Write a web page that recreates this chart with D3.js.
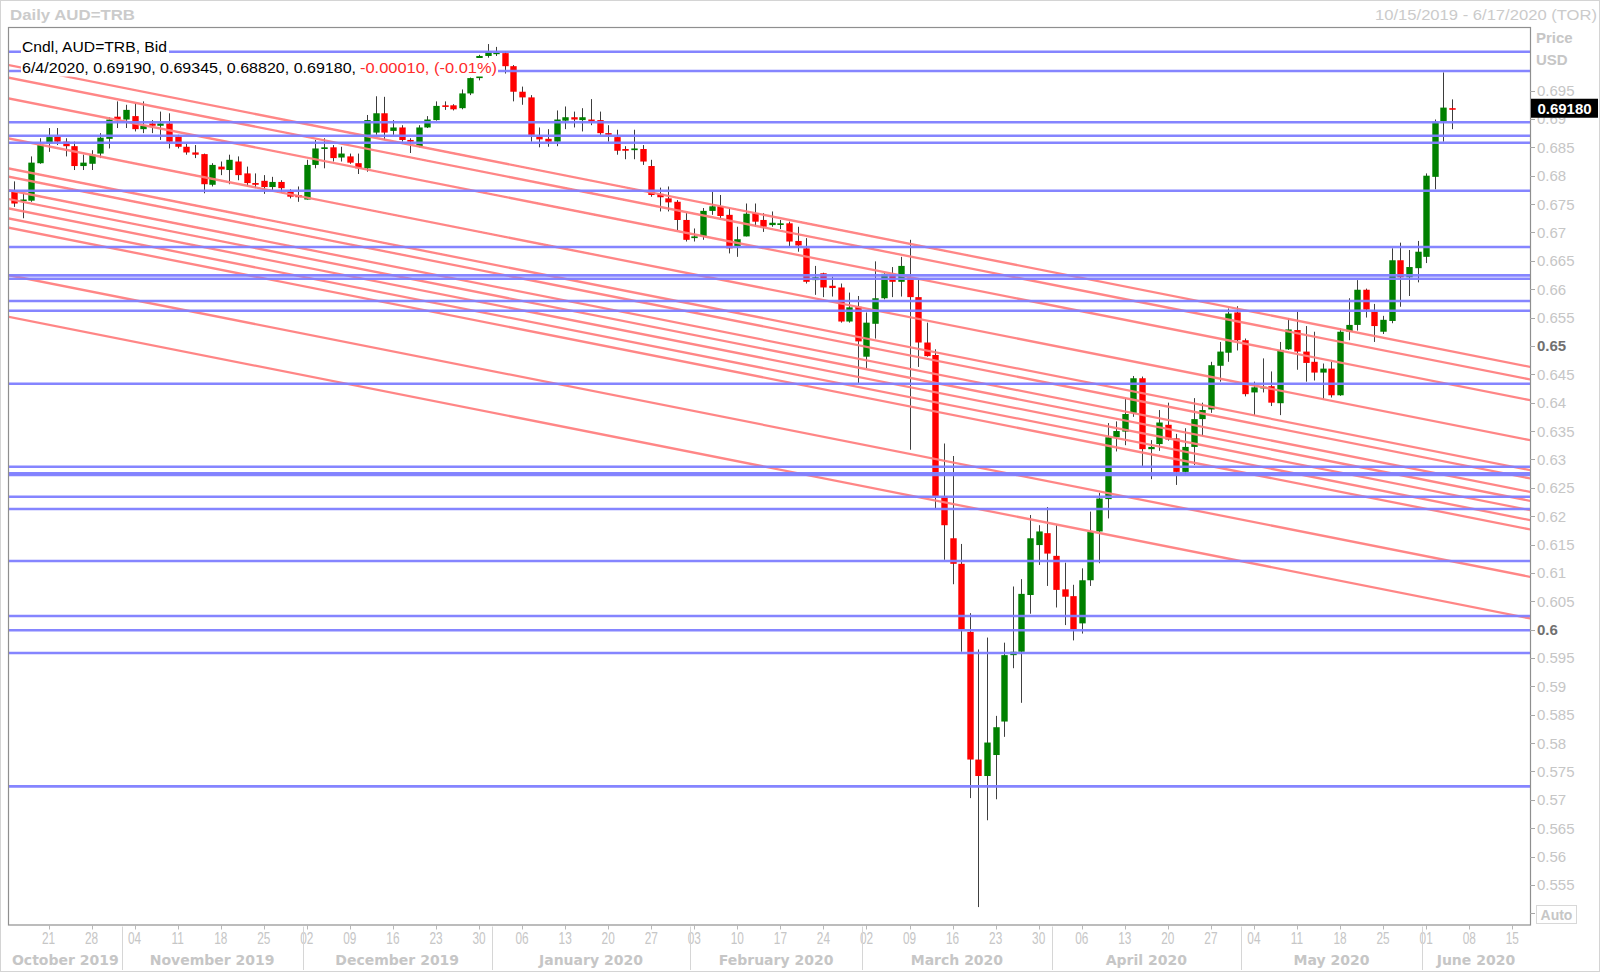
<!DOCTYPE html>
<html><head><meta charset="utf-8">
<script src="https://cdn.jsdelivr.net/npm/d3@7"></script>
<style>body{margin:0;background:#fff}svg{display:block}</style>
</head><body><svg id="c" width="1600" height="972"></svg>
<script>
// ---------------- DATA ----------------
const dates = [
"2019-10-15","2019-10-16","2019-10-17","2019-10-18","2019-10-21","2019-10-22","2019-10-23","2019-10-24","2019-10-25",
"2019-10-28","2019-10-29","2019-10-30","2019-10-31","2019-11-01","2019-11-04","2019-11-05","2019-11-06","2019-11-07","2019-11-08",
"2019-11-11","2019-11-12","2019-11-13","2019-11-14","2019-11-15","2019-11-18","2019-11-19","2019-11-20","2019-11-21","2019-11-22",
"2019-11-25","2019-11-26","2019-11-27","2019-11-28","2019-11-29","2019-12-02","2019-12-03","2019-12-04","2019-12-05","2019-12-06",
"2019-12-09","2019-12-10","2019-12-11","2019-12-12","2019-12-13","2019-12-16","2019-12-17","2019-12-18","2019-12-19","2019-12-20",
"2019-12-23","2019-12-24","2019-12-25","2019-12-26","2019-12-27","2019-12-30","2019-12-31","2020-01-01","2020-01-02","2020-01-03",
"2020-01-06","2020-01-07","2020-01-08","2020-01-09","2020-01-10","2020-01-13","2020-01-14","2020-01-15","2020-01-16","2020-01-17",
"2020-01-20","2020-01-21","2020-01-22","2020-01-23","2020-01-24","2020-01-27","2020-01-28","2020-01-29","2020-01-30","2020-01-31",
"2020-02-03","2020-02-04","2020-02-05","2020-02-06","2020-02-07","2020-02-10","2020-02-11","2020-02-12","2020-02-13","2020-02-14",
"2020-02-17","2020-02-18","2020-02-19","2020-02-20","2020-02-21","2020-02-24","2020-02-25","2020-02-26","2020-02-27","2020-02-28",
"2020-03-02","2020-03-03","2020-03-04","2020-03-05","2020-03-06","2020-03-09","2020-03-10","2020-03-11","2020-03-12","2020-03-13",
"2020-03-16","2020-03-17","2020-03-18","2020-03-19","2020-03-20","2020-03-23","2020-03-24","2020-03-25","2020-03-26","2020-03-27",
"2020-03-30","2020-03-31","2020-04-01","2020-04-02","2020-04-03","2020-04-06","2020-04-07","2020-04-08","2020-04-09","2020-04-10",
"2020-04-13","2020-04-14","2020-04-15","2020-04-16","2020-04-17","2020-04-20","2020-04-21","2020-04-22","2020-04-23","2020-04-24",
"2020-04-27","2020-04-28","2020-04-29","2020-04-30","2020-05-01","2020-05-04","2020-05-05","2020-05-06","2020-05-07","2020-05-08",
"2020-05-11","2020-05-12","2020-05-13","2020-05-14","2020-05-15","2020-05-18","2020-05-19","2020-05-20","2020-05-21","2020-05-22",
"2020-05-25","2020-05-26","2020-05-27","2020-05-28","2020-05-29","2020-06-01","2020-06-02","2020-06-03","2020-06-04"];

const openP = [
0.6772,0.6755,0.6756,0.6822,0.6857,0.6869,0.6860,0.6852,0.6817,0.6821,
0.6839,0.6865,0.6904,0.6899,0.6905,0.6882,0.6892,0.6888,0.6892,0.6869,
0.6851,0.6841,0.6838,0.6784,0.6816,0.6810,0.6825,0.6804,0.6787,0.6791,
0.6780,0.6789,0.6772,0.6766,0.6758,0.6819,0.6847,0.6850,0.6832,0.6834,
0.6822,0.6813,0.6876,0.6910,0.6879,0.6885,0.6863,0.6851,0.6885,0.6898,
0.6924,0.6924,0.6919,0.6945,0.6972,0.7011,0.7016,0.7016,0.6993,0.6948,
0.6938,0.6869,0.6865,0.6860,0.6897,0.6903,0.6898,0.6899,0.6898,0.6875,
0.6868,0.6847,0.6845,0.6847,0.6817,0.6768,0.6760,0.6754,0.6722,0.6690,
0.6693,0.6738,0.6746,0.6731,0.6676,0.6693,0.6734,0.6722,0.6713,0.6715,
0.6716,0.6685,0.6672,0.6616,0.6628,0.6606,0.6603,0.6543,0.6569,0.6481,
0.6539,0.6584,0.6627,0.6613,0.6621,0.6586,0.6506,0.6484,0.6235,0.6161,
0.6116,0.5996,0.5771,0.5742,0.5779,0.5838,0.5955,0.5961,0.6061,0.6149,
0.6170,0.6130,0.6071,0.6059,0.6011,0.6087,0.6173,0.6230,0.6339,0.6349,
0.6382,0.6443,0.6318,0.6327,0.6361,0.6337,0.6278,0.6322,0.6371,0.6388,
0.6465,0.6488,0.6559,0.6510,0.6418,0.6425,0.6429,0.6399,0.6494,0.6528,
0.6490,0.6472,0.6453,0.6460,0.6413,0.6525,0.6537,0.6599,0.6560,0.6525,
0.6544,0.6651,0.6621,0.6637,0.6657,0.6798,0.6896,0.69190];

const highP = [
0.6790,0.6769,0.6834,0.6866,0.6884,0.6884,0.6866,0.6860,0.6837,0.6845,
0.6875,0.6903,0.6931,0.6925,0.6928,0.6931,0.6898,0.6913,0.6910,0.6872,
0.6856,0.6854,0.6839,0.6822,0.6825,0.6837,0.6834,0.6816,0.6804,0.6801,
0.6798,0.6792,0.6776,0.6781,0.6828,0.6863,0.6866,0.6854,0.6851,0.6839,
0.6839,0.6907,0.6940,0.6939,0.6898,0.6889,0.6866,0.6889,0.6905,0.6931,
0.6931,0.6926,0.6952,0.6973,0.7013,0.7032,0.7027,0.7019,0.6995,0.6957,
0.6942,0.6885,0.6882,0.6915,0.6922,0.6913,0.6919,0.6935,0.6913,0.6889,
0.6881,0.6852,0.6881,0.6854,0.6828,0.6779,0.6781,0.6757,0.6734,0.6707,
0.6743,0.6772,0.6766,0.6743,0.6710,0.6751,0.6751,0.6734,0.6737,0.6722,
0.6719,0.6710,0.6690,0.6641,0.6629,0.6622,0.6610,0.6594,0.6588,0.6559,
0.6649,0.6628,0.6639,0.6657,0.6687,0.6619,0.6541,0.6494,0.6328,0.6306,
0.6151,0.6029,0.5965,0.5986,0.5848,0.5977,0.6076,0.6089,0.6202,0.6184,
0.6216,0.6184,0.6118,0.6079,0.6108,0.6208,0.6241,0.6364,0.6367,0.6408,
0.6447,0.6446,0.6334,0.6387,0.6400,0.6345,0.6355,0.6408,0.6400,0.6472,
0.6507,0.6566,0.6570,0.6513,0.6437,0.6478,0.6455,0.6507,0.6549,0.6560,
0.6535,0.6525,0.6469,0.6472,0.6531,0.6584,0.6616,0.6601,0.6574,0.6553,
0.6672,0.6682,0.6669,0.6685,0.6804,0.6899,0.6982,0.69345];

const lowP = [
0.6745,0.6725,0.6754,0.6821,0.6842,0.6854,0.6834,0.6810,0.6810,0.6810,
0.6831,0.6848,0.6884,0.6884,0.6878,0.6875,0.6875,0.6863,0.6848,0.6848,
0.6837,0.6831,0.6769,0.6781,0.6801,0.6785,0.6792,0.6781,0.6778,0.6768,
0.6772,0.6770,0.6760,0.6754,0.6758,0.6813,0.6813,0.6825,0.6825,0.6821,
0.6803,0.6807,0.6872,0.6863,0.6872,0.6860,0.6840,0.6850,0.6884,0.6897,
0.6916,0.6915,0.6917,0.6942,0.6968,0.7008,0.7011,0.6980,0.6931,0.6925,
0.6860,0.6850,0.6851,0.6852,0.6882,0.6885,0.6878,0.6889,0.6872,0.6860,
0.6837,0.6829,0.6829,0.6819,0.6763,0.6737,0.6737,0.6704,0.6684,0.6684,
0.6687,0.6731,0.6725,0.6663,0.6657,0.6693,0.6710,0.6701,0.6710,0.6706,
0.6675,0.6666,0.6610,0.6590,0.6586,0.6587,0.6541,0.6541,0.6434,0.6461,
0.6513,0.6582,0.6586,0.6587,0.6317,0.6463,0.6481,0.6212,0.6123,0.6080,
0.5961,0.5703,0.5511,0.5664,0.5701,0.5811,0.5932,0.5871,0.6028,0.6114,
0.6077,0.6039,0.6008,0.5981,0.5993,0.6077,0.6117,0.6196,0.6314,0.6325,
0.6375,0.6288,0.6265,0.6315,0.6333,0.6255,0.6273,0.6290,0.6341,0.6382,
0.6437,0.6472,0.6492,0.6411,0.6378,0.6418,0.6394,0.6378,0.6493,0.6458,
0.6437,0.6439,0.6405,0.6409,0.6412,0.6510,0.6527,0.6550,0.6507,0.6521,
0.6540,0.6569,0.6588,0.6612,0.6646,0.6776,0.6860,0.68820];

const closeP = [
0.6751,0.6758,0.6823,0.6854,0.6868,0.6860,0.6852,0.6817,0.6823,0.6837,
0.6867,0.6899,0.6899,0.6916,0.6882,0.6888,0.6888,0.6892,0.6860,0.6851,
0.6841,0.6837,0.6785,0.6819,0.6811,0.6828,0.6801,0.6787,0.6784,0.6780,
0.6789,0.6778,0.6763,0.6762,0.6819,0.6848,0.6850,0.6831,0.6839,0.6823,
0.6813,0.6898,0.6910,0.6876,0.6885,0.6863,0.6860,0.6885,0.6899,0.6923,
0.6922,0.6917,0.6945,0.6972,0.7011,0.7019,0.7017,0.6993,0.6948,0.6938,
0.6872,0.6864,0.6860,0.6899,0.6903,0.6899,0.6903,0.6895,0.6875,0.6874,
0.6844,0.6844,0.6848,0.6825,0.6766,0.6762,0.6753,0.6722,0.6687,0.6693,
0.6738,0.6746,0.6729,0.6672,0.6688,0.6733,0.6719,0.6710,0.6717,0.6716,
0.6684,0.6677,0.6613,0.6621,0.6603,0.6602,0.6543,0.6568,0.6508,0.6541,
0.6584,0.6627,0.6613,0.6641,0.6586,0.6506,0.6482,0.6235,0.6184,0.6116,
0.6000,0.5771,0.5742,0.5801,0.5828,0.5955,0.5961,0.6063,0.6161,0.6173,
0.6134,0.6070,0.6058,0.6000,0.6087,0.6172,0.6231,0.6339,0.6350,0.6380,
0.6443,0.6318,0.6322,0.6365,0.6335,0.6278,0.6322,0.6371,0.6387,0.6466,
0.6490,0.6557,0.6510,0.6415,0.6427,0.6428,0.6400,0.6493,0.6529,0.6490,
0.6470,0.6453,0.6460,0.6413,0.6525,0.6537,0.6599,0.6564,0.6535,0.6546,
0.6651,0.6621,0.6639,0.6666,0.6800,0.6895,0.6920,0.69180];

// horizontal support / resistance levels
const levels = [0.70185,0.69845,0.68941,0.68705,0.68581,0.67735,0.66743,0.66244,0.66184,0.65791,
0.65620,0.64334,0.62871,0.62755,0.62725,0.62342,0.62126,0.61209,0.60240,0.59988,0.59588,0.57238];

// parallel descending trend lines: value at start date and at end date
const trendFrom = "2019-10-15", trendTo = "2020-06-17";
const trendStartVal = [0.69930,0.69708,0.69343,0.68638,0.68109,0.67963,0.67726,0.67568,0.67404,0.67228,0.67064,0.66228,0.65495];
const trendEndVal   = [0.64633,0.64411,0.64046,0.63341,0.62813,0.62667,0.62430,0.62272,0.62108,0.61932,0.61768,0.60932,0.60199];

const yTickVals = [0.55,0.555,0.56,0.565,0.57,0.575,0.58,0.585,0.59,0.595,0.6,0.605,0.61,0.615,0.62,0.625,0.63,0.635,0.64,0.645,0.65,0.655,0.66,0.665,0.67,0.675,0.68,0.685,0.69,0.695];
const yBoldTicks = [0.6,0.65];
const weekTicks = ["2019-10-21","2019-10-28","2019-11-04","2019-11-11","2019-11-18","2019-11-25","2019-12-02","2019-12-09","2019-12-16","2019-12-23","2019-12-30",
"2020-01-06","2020-01-13","2020-01-20","2020-01-27","2020-02-03","2020-02-10","2020-02-17","2020-02-24","2020-03-02","2020-03-09","2020-03-16","2020-03-23","2020-03-30",
"2020-04-06","2020-04-13","2020-04-20","2020-04-27","2020-05-04","2020-05-11","2020-05-18","2020-05-25","2020-06-01","2020-06-08","2020-06-15"];
const monthLabels = ["October 2019","November 2019","December 2019","January 2020","February 2020","March 2020","April 2020","May 2020","June 2020"];
const monthFirstDays = ["2019-10-01","2019-11-01","2019-12-02","2020-01-01","2020-02-03","2020-03-02","2020-04-01","2020-05-01","2020-06-01"];
const domainStart = "2019-10-15", domainEnd = "2020-06-17";
const lastPrice = 0.69180;

// ---------------- LAYOUT ----------------
const P = {l: 9, t: 28, r: 1530, b: 924.5};
const svg = d3.select("#c");
const T0 = new Date(Date.UTC(2019, 9, 15));
function idx(s) {            // weekday (trading-day) index counted from the first date
  const d = new Date(s + "T00:00:00Z");
  let n = 0, cur = new Date(T0);
  if (d >= T0) {
    while (cur < d) { cur.setUTCDate(cur.getUTCDate() + 1); const w = cur.getUTCDay(); if (w !== 0 && w !== 6) n++; }
  } else {
    while (cur > d) { cur.setUTCDate(cur.getUTCDate() - 1); const w = cur.getUTCDay(); if (w !== 0 && w !== 6) n--; }
  }
  return n;
}
const x = d3.scaleLinear().domain([idx(domainStart) - 0.59, idx(domainEnd) + 0.06]).range([P.l, P.r]);
const y = d3.scaleLinear().domain([0.54803, 0.70603]).range([P.b, P.t]);

svg.append("rect").attr("x",0.5).attr("y",0.5).attr("width",1599).attr("height",971)
  .attr("fill","#fff").attr("stroke","#d4d4d4");

svg.append("defs").append("clipPath").attr("id","clip").append("rect")
  .attr("x",P.l).attr("y",P.t).attr("width",P.r-P.l).attr("height",P.b-P.t);

const plot = svg.append("g").attr("clip-path","url(#clip)");

// candles
const candles = dates.map((d,i)=>({d, i: idx(d), o: openP[i], h: highP[i], l: lowP[i], c: closeP[i]}));
const bw = 6.4;
const cg = plot.append("g");
cg.selectAll("line.w").data(candles).join("line")
  .attr("x1", d => Math.round(x(d.i)) + 0.5).attr("x2", d => Math.round(x(d.i)) + 0.5)
  .attr("y1", d => y(d.h)).attr("y2", d => y(d.l))
  .attr("stroke", "#404040").attr("stroke-width", 1);
cg.selectAll("rect.b").data(candles).join("rect")
  .attr("x", d => Math.round(x(d.i)) + 0.5 - bw/2).attr("width", bw)
  .attr("y", d => Math.min(y(d.o), y(d.c)))
  .attr("height", d => Math.max(1.6, Math.abs(y(d.o) - y(d.c))))
  .attr("fill", d => d.c >= d.o ? "#008000" : "#ff0000");

// trend lines
const tA = idx(trendFrom), tB = idx(trendTo);
plot.append("g").selectAll("line").data(trendStartVal.map((v,k)=>[v, trendEndVal[k]])).join("line")
  .attr("x1", d => x(tA) - 200).attr("y1", d => y(d[0] - (d[1]-d[0]) * 200 / (x(tB)-x(tA))))
  .attr("x2", d => x(tB) + 200).attr("y2", d => y(d[1] + (d[1]-d[0]) * 200 / (x(tB)-x(tA))))
  .attr("stroke", "#ff8080").attr("stroke-width", 2.3).attr("opacity", 0.95);

// horizontal levels
plot.append("g").selectAll("line").data(levels).join("line")
  .attr("x1", P.l).attr("x2", P.r).attr("y1", d => y(d)).attr("y2", d => y(d))
  .attr("stroke", "#7f7fff").attr("stroke-width", 2.6).attr("opacity", 0.95);

// plot frame
svg.append("rect").attr("x",P.l-0.5).attr("y",P.t-0.5).attr("width",P.r-P.l+1).attr("height",P.b-P.t+1)
  .attr("fill","none").attr("stroke","#8f8f8f").attr("stroke-width",1.2);

// header legend
const FONT = "'Liberation Sans', Arial, sans-serif";
svg.append("rect").attr("x",21).attr("y",37).attr("width",148).attr("height",18).attr("fill","#fff");
svg.append("rect").attr("x",21).attr("y",58).attr("width",477).attr("height",18.5).attr("fill","#fff");
svg.append("text").attr("x",22).attr("y",51.5).attr("font-family",FONT).attr("font-size",15)
  .attr("textLength",145).attr("lengthAdjust","spacingAndGlyphs").attr("fill","#000").text("Cndl, AUD=TRB, Bid");
svg.append("text").attr("x",22).attr("y",72.5).attr("font-family",FONT).attr("font-size",15)
  .attr("textLength",334).attr("lengthAdjust","spacingAndGlyphs").attr("fill","#000")
  .text("6/4/2020, 0.69190, 0.69345, 0.68820, 0.69180,");
svg.append("text").attr("x",360).attr("y",72.5).attr("font-family",FONT).attr("font-size",15)
  .attr("textLength",137).attr("lengthAdjust","spacingAndGlyphs").attr("fill","#ff2a2a")
  .text("-0.00010, (-0.01%)");

// title bar
svg.append("text").attr("x",10).attr("y",20).attr("font-family",FONT).attr("font-size",15).attr("font-weight","bold")
  .attr("textLength",125).attr("lengthAdjust","spacingAndGlyphs").attr("fill","#cbcbcb").text("Daily AUD=TRB");
svg.append("text").attr("x",1375).attr("y",20).attr("font-family",FONT).attr("font-size",15)
  .attr("textLength",222).attr("lengthAdjust","spacingAndGlyphs")
  .attr("fill","#cbcbcb").text(`10/15/2019 - 6/17/2020 (TOR)`);

// y axis
const ya = svg.append("g");
ya.selectAll("line").data(yTickVals).join("line")
  .attr("x1",P.r).attr("x2",P.r+5).attr("y1",d=>Math.round(y(d))+0.5).attr("y2",d=>Math.round(y(d))+0.5)
  .attr("stroke","#a8a8a8");
const fmt = v => String(+v.toFixed(3));
ya.selectAll("text").data(yTickVals.filter(v => v > 0.551)).join("text")
  .attr("x",P.r+7).attr("y",d=>y(d)+5.5).attr("font-family",FONT).attr("font-size",15)
  .attr("font-weight",d=>yBoldTicks.some(b=>Math.abs(b-d)<1e-9)?"bold":"normal")
  .attr("fill",d=>yBoldTicks.some(b=>Math.abs(b-d)<1e-9)?"#707070":"#c6c6c6")
  .text(fmt);
svg.append("text").attr("x",P.r+6).attr("y",43).attr("font-family",FONT).attr("font-size",15).attr("font-weight","bold").attr("fill","#c6c6c6").text("Price");
svg.append("text").attr("x",P.r+6).attr("y",65).attr("font-family",FONT).attr("font-size",15).attr("font-weight","bold").attr("fill","#c6c6c6").text("USD");
// last price box
svg.append("rect").attr("x",P.r+1).attr("y",y(lastPrice)-10).attr("width",67).attr("height",19).attr("fill","#000");
svg.append("text").attr("x",P.r+34.5).attr("y",y(lastPrice)+5).attr("text-anchor","middle").attr("font-family",FONT)
  .attr("font-size",15).attr("font-weight","bold").attr("fill","#fff").text(lastPrice.toFixed(5));
// Auto box
svg.append("rect").attr("x",1536.5).attr("y",905.5).attr("width",40).attr("height",18).attr("fill","#fff").attr("stroke","#d8d8d8");
svg.append("text").attr("x",1556.5).attr("y",920).attr("text-anchor","middle").attr("font-family",FONT).attr("font-size",14)
  .attr("font-weight","bold").attr("fill","#c6c6c6").text("Auto");

// x axis
const xa = svg.append("g");
xa.selectAll("line.t").data(weekTicks).join("line")
  .attr("x1",d=>Math.round(x(idx(d)))+0.5).attr("x2",d=>Math.round(x(idx(d)))+0.5)
  .attr("y1",P.b+0.5).attr("y2",P.b+5).attr("stroke","#b8b8b8");
xa.selectAll("text.t").data(weekTicks).join("text")
  .attr("transform",d=>`translate(${x(idx(d))},${P.b+19}) scale(0.74,1)`)
  .attr("text-anchor","middle").attr("font-family",FONT).attr("font-size",16).attr("fill","#c6c6c6")
  .text(d=>d.slice(8,10));
const seps = monthFirstDays.map(d => x(idx(d) - 0.5));
xa.selectAll("line.s").data(seps.slice(1)).join("line")
  .attr("x1",d=>Math.round(d)+0.5).attr("x2",d=>Math.round(d)+0.5).attr("y1",P.b+2).attr("y2",970)
  .attr("stroke","#d6d6d6");
xa.selectAll("text.m").data(monthLabels).join("text")
  .attr("x",(d,k)=>{ const a = Math.max(P.l, seps[k]); const b = k+1<seps.length ? seps[k+1] : P.r; return (a+b)/2; })
  .attr("y",P.b+40).attr("text-anchor","middle").attr("font-family","'DejaVu Sans', Verdana, sans-serif").attr("font-size",14).attr("font-weight","bold")
  .attr("fill","#c6c6c6").text(d=>d);
</script></body></html>
